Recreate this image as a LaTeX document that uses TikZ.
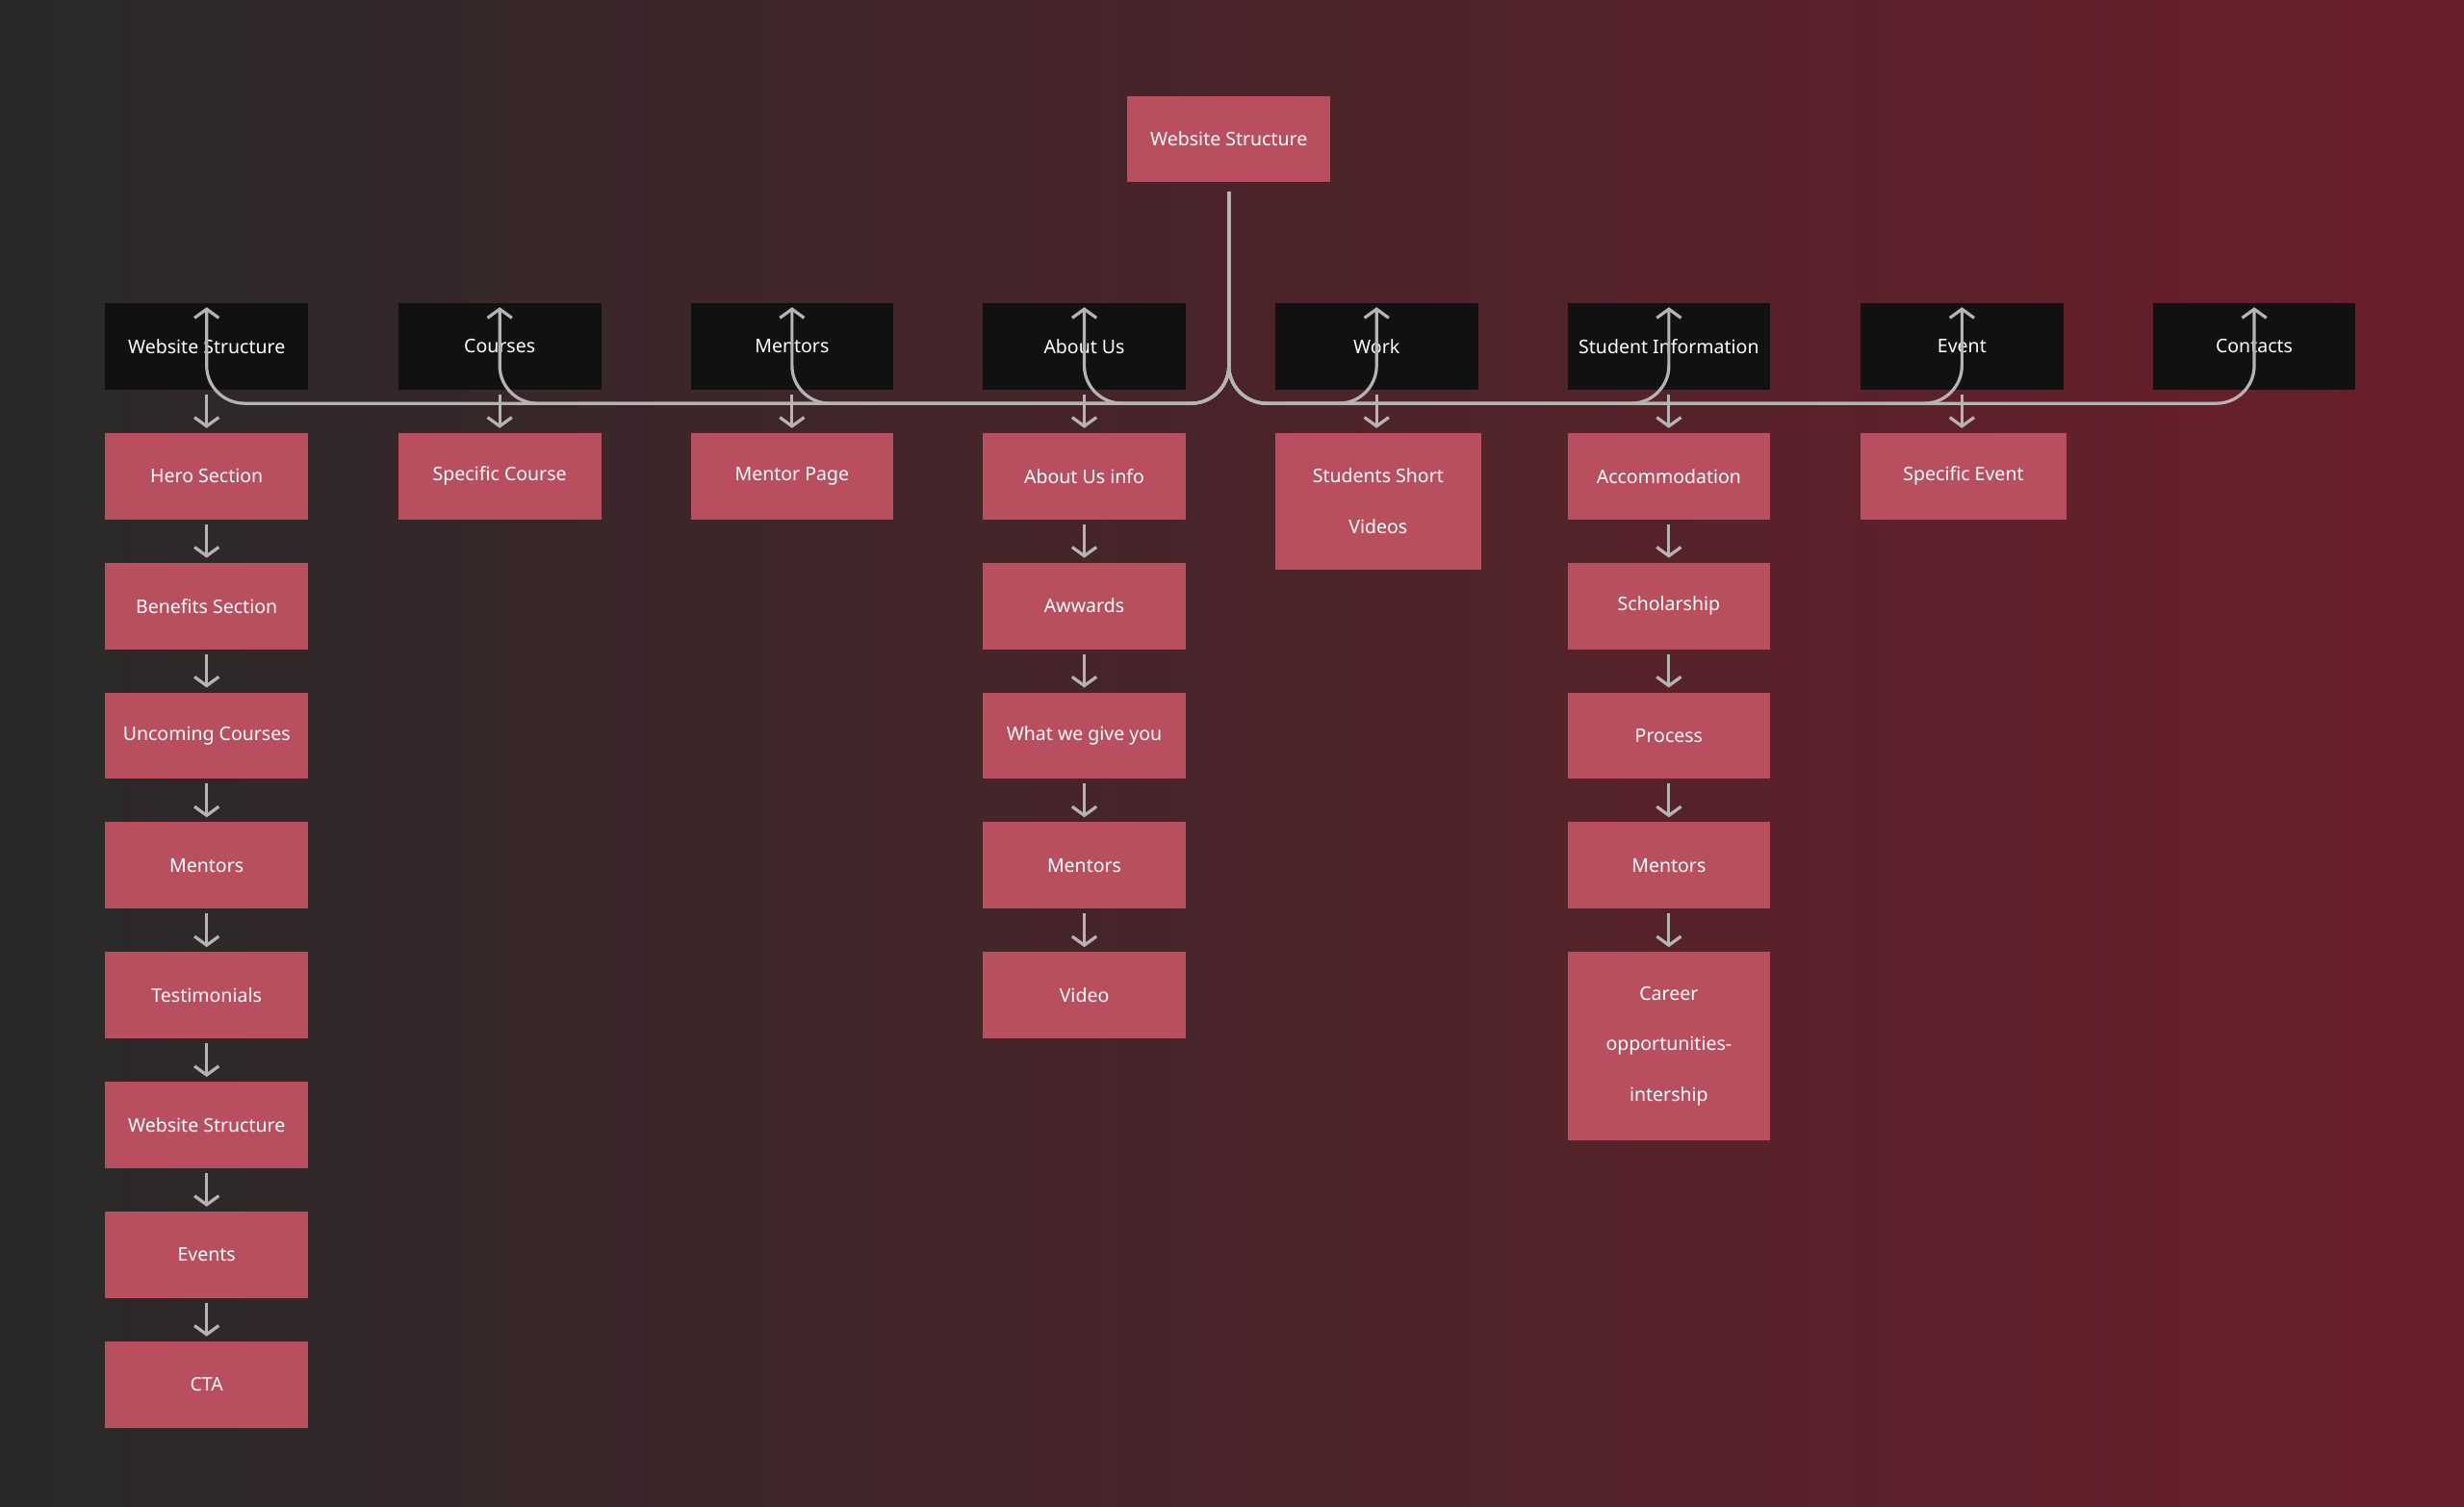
\documentclass[tikz,border=0pt]{standalone}
\usepackage{fontspec}
\setmainfont{Noto Sans}
\usetikzlibrary{positioning,arrows.meta}
\definecolor{boxpink}{HTML}{B94F5E}
\definecolor{boxblack}{HTML}{111111}
\definecolor{linegray}{HTML}{B4B4B4}
\definecolor{bgleft}{HTML}{292929}
\definecolor{bgright}{HTML}{6B1F2B}
\begin{document}
\begin{tikzpicture}
	[x=0.025cm,y=-0.025cm,
	node distance=0.675cm,
	box/.style={
		rectangle,
		fill=boxpink,
		text=white,
		font=\fontsize{8.5}{23}\selectfont\bfseries,
		align=center,
		minimum width=3.225cm,
		minimum height=1.375cm,
		inner sep=2pt
	},
	head/.style={box,fill=boxblack},
	link/.style={draw=linegray,line width=1.4pt,-{Straight Barb[length=4pt,width=11pt,line width=1.4pt]},shorten >=2pt,shorten <=2pt},
	branch/.style={link,rounded corners=0.6cm,shorten <=4pt}]
	% background
	\shade[left color=bgleft,right color=bgright] (0,0) rectangle (1568,959);
	% root
	\node[box] (root) at (782,88.5) {Website Structure};
	% headers
	\node[head] (h1) at (131.5,220.5) {Website Structure};
	\node[head] (h2) at (318,220.5) {Courses};
	\node[head] (h3) at (504,220.5) {Mentors};
	\node[head] (h4) at (690,220.5) {About Us};
	\node[head] (h5) at (876,220.5) {Work};
	\node[head] (h6) at (1062,220.5) {Student Information};
	\node[head] (h7) at (1248.5,220.5) {Event};
	\node[head] (h8) at (1434.5,220.5) {Contacts};
	\foreach \h in {h1,h2,h3,h4,h5,h6,h7,h8}
		\draw[branch] (root.south) |- ([yshift=-1.6cm]\h.north) -- (\h.north);
	% column 1
	\node[box,below=of h1] (a1) {Hero Section};
	\node[box,below=of a1] (a2) {Benefits Section};
	\node[box,below=of a2] (a3) {Uncoming Courses};
	\node[box,below=of a3] (a4) {Mentors};
	\node[box,below=of a4] (a5) {Testimonials};
	\node[box,below=of a5] (a6) {Website Structure};
	\node[box,below=of a6] (a7) {Events};
	\node[box,below=of a7] (a8) {CTA};
	% column 2, 3
	\node[box,below=of h2] (b1) {Specific Course};
	\node[box,below=of h3] (c1) {Mentor Page};
	% column 4
	\node[box,below=of h4] (d1) {About Us info};
	\node[box,below=of d1] (d2) {Awwards};
	\node[box,below=of d2] (d3) {What we give you};
	\node[box,below=of d3] (d4) {Mentors};
	\node[box,below=of d4] (d5) {Video};
	% column 5
	\node[box,below=of h5,minimum height=2.175cm,minimum width=3.275cm,xshift=0.025cm] (e1) {Students Short\\Videos};
	% column 6
	\node[box,below=of h6] (f1) {Accommodation};
	\node[box,below=of f1] (f2) {Scholarship};
	\node[box,below=of f2] (f3) {Process};
	\node[box,below=of f3] (f4) {Mentors};
	\node[box,below=of f4,minimum height=3cm] (f5) {Career\\opportunities-\\intership};
	% column 7
	\node[box,below=of h7,minimum width=3.275cm,xshift=0.025cm] (g1) {Specific Event};
	% arrows
	\foreach \u/\v in {h1/a1,a1/a2,a2/a3,a3/a4,a4/a5,a5/a6,a6/a7,a7/a8,
		h2/b1,h3/c1,h4/d1,d1/d2,d2/d3,d3/d4,d4/d5,h5/e1,
		h6/f1,f1/f2,f2/f3,f3/f4,f4/f5,h7/g1}
		\draw[link] (\u.south) -- (\u.south |- \v.north);
\end{tikzpicture}
\end{document}
